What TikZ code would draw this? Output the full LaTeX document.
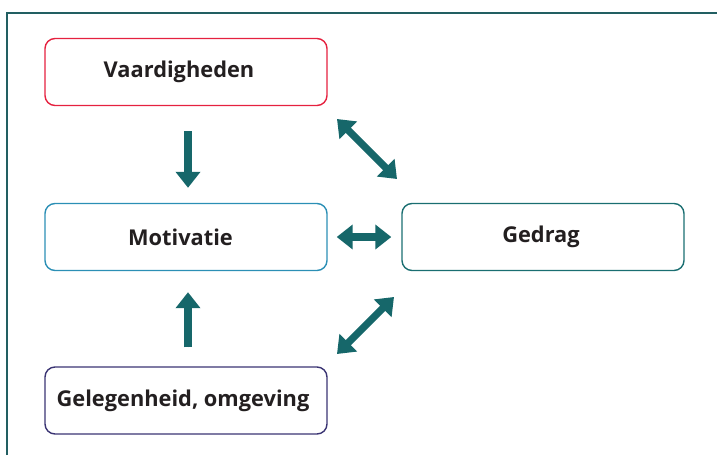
\documentclass[tikz,border=0pt]{standalone}
\usepackage{fontspec}
\setmainfont{Open Sans}
\usetikzlibrary{arrows.meta,calc}
\definecolor{redb}{HTML}{E5213F}
\definecolor{blueb}{HTML}{2B8FB5}
\definecolor{tealb}{HTML}{1A6E71}
\definecolor{navyb}{HTML}{3A3473}
\definecolor{arrowc}{HTML}{16676A}
\definecolor{framec}{HTML}{225F62}
\definecolor{txt}{HTML}{231F20}
\begin{document}
\begin{tikzpicture}[x=1pt,y=-1pt,
  box/.style={draw, line width=1.4pt, rounded corners=10pt, minimum width=282pt, minimum height=67pt, inner sep=0pt,
    font=\fontsize{21.8}{25}\selectfont\bfseries, text=txt},
  bigarrow/.style={draw=arrowc, fill=arrowc, line width=7.2pt, -{Triangle[length=16pt,width=24pt]}},
  dblarrow/.style={draw=arrowc, fill=arrowc, line width=7.2pt, {Triangle[length=16pt,width=24pt]}-{Triangle[length=16pt,width=24pt]}}]
\useasboundingbox (0,0) rectangle (717,455);
\draw[framec, line width=1.3pt] (7,455) -- (7,13) -- (717,13);
\node[box, draw=redb] (vaard) at (186,72) {\raisebox{-1.5pt}{Vaardigheden}\hspace*{14pt}};
\node[box, draw=blueb] (motiv) at (186,237) {\raisebox{-1.5pt}{Motivatie}\hspace*{11pt}};
\node[box, draw=tealb] (gedrag) at (543,237) {\raisebox{-1.5pt}{Gedrag}\hspace*{4pt}};
\node[box, draw=navyb] (gel) at (186,400.5) {\raisebox{-1.5pt}{Gelegenheid, omgeving}\hspace*{6pt}};
\coordinate (d1a) at (337,119);
\coordinate (d1b) at (397,179);
\coordinate (d2a) at (337,354);
\coordinate (d2b) at (394,297);
\draw[bigarrow, shorten <=25pt, shorten >=15pt] ($(vaard.south)+(2,0)$) -- ($(motiv.north)+(2,0)$);
\draw[bigarrow, shorten <=19pt, shorten >=21pt] ($(gel.north)+(2,0)$) -- ($(motiv.south)+(2,0)$);
\draw[dblarrow, shorten <=9pt, shorten >=10pt] (motiv.east) -- (gedrag.west);
\draw[dblarrow] (d1a) -- (d1b);
\draw[dblarrow] (d2a) -- (d2b);
\end{tikzpicture}
\end{document}
